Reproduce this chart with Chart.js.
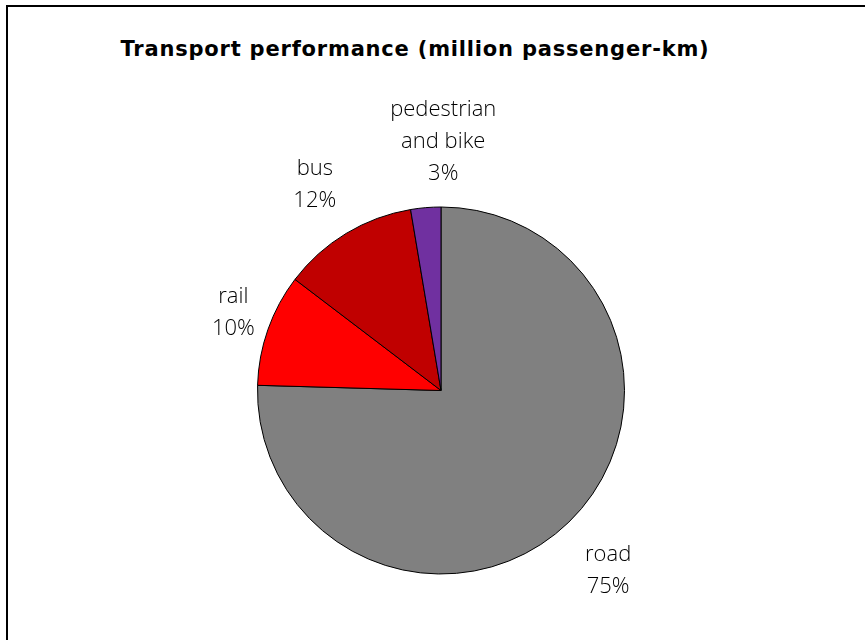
<!DOCTYPE html>
<html>
<head>
<meta charset="utf-8">
<script src="https://cdn.jsdelivr.net/npm/chart.js@4"></script>
<style>
    html, body { margin: 0; padding: 0; background: #fff; }
    #wrap { position: relative; width: 865px; height: 640px; overflow: hidden; }
    #frame {
        position: absolute; left: 6px; top: 5px; width: 900px; height: 700px;
        border-left: 2px solid #000; border-top: 2px solid #000;
    }
    #title {
        position: absolute; left: 0; top: 37px; width: 830px; text-align: center;
        font-family: 'DejaVu Sans', sans-serif; font-weight: 700; font-size: 21px; color: #000;
        letter-spacing: 0.8px;
    }
    canvas { position: absolute; left: 0; top: 0; }
</style>
</head>
<body>
<div id="wrap">
    <div id="frame"></div>
    <div id="title">Transport performance (million passenger-km)</div>
    <canvas id="pieChart" width="865" height="640"></canvas>
</div>
<script>
// ============================================================
// Data
// ============================================================
const categories = ['road', 'rail', 'bus', 'pedestrian and bike'];
const labelLines = [['road'], ['rail'], ['bus'], ['pedestrian', 'and bike']];
const shares = [75.45, 9.9, 12.0, 2.65];
const sliceColors = ['#808080', '#FF0000', '#C00000', '#7030A0'];

// Labels placed outside each slice (Excel "outside end" style)
const outsideLabels = {
    id: 'outsideLabels',
    afterDatasetsDraw(chart, args, opts) {
        const { ctx } = chart;
        const meta = chart.getDatasetMeta(0);
        const total = shares.reduce((s, v) => s + v, 0);
        const lineH = 32;
        ctx.save();
        ctx.font = '300 22px "Open Sans", sans-serif';
        ctx.fillStyle = '#000';
        ctx.textAlign = 'center';
        ctx.textBaseline = 'middle';
        meta.data.forEach((arc, i) => {
            const mid = (arc.startAngle + arc.endAngle) / 2;
            const r = arc.outerRadius * opts.factors[i];
            const cx = arc.x + Math.cos(mid) * r + opts.shifts[i][0];
            const cy = arc.y + Math.sin(mid) * r + opts.shifts[i][1];
            const lines = labelLines[i].concat([Math.round(shares[i] / total * 100) + '%']);
            const y0 = cy - (lines.length - 1) * lineH / 2;
            lines.forEach((t, j) => ctx.fillText(t, cx, y0 + j * lineH));
        });
        ctx.restore();
    }
};

new Chart(document.getElementById('pieChart'), {
    type: 'pie',
    data: {
        labels: categories,
        datasets: [{
            data: shares,
            backgroundColor: sliceColors,
            borderColor: '#000',
            borderWidth: 1,
        }]
    },
    options: {
        responsive: false,
        animation: false,
        rotation: 0,
        layout: { padding: { left: 257, right: 240, top: 206, bottom: 65 } },
        plugins: {
            legend: { display: false },
            tooltip: { enabled: false },
            outsideLabels: {
                factors: [1.33, 1.2, 1.33, 1.36],
                shifts: [[-3, 5], [0, -4], [0, 3], [23, 0]]
            }
        }
    },
    plugins: [outsideLabels]
});
</script>
</body>
</html>
